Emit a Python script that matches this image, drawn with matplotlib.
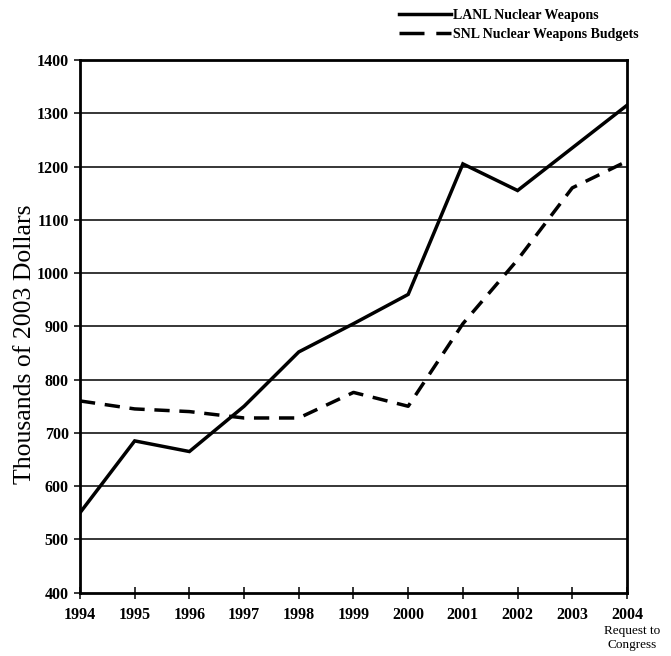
import matplotlib
matplotlib.use("Agg")
import matplotlib.pyplot as plt

years = [1994, 1995, 1996, 1997, 1998, 1999, 2000, 2001, 2002, 2003, 2004]
lanl = [550, 685, 665, 750, 852, 905, 960, 1205, 1155, 1235, 1315]
snl = [760, 745, 740, 728, 728, 776, 750, 905, 1025, 1160, 1210]
yticks = [400, 500, 600, 700, 800, 900, 1000, 1100, 1200, 1300, 1400]

plt.rcParams['font.family'] = ['Liberation Serif', 'DejaVu Serif']

fig = plt.figure(figsize=(6.71, 6.56), dpi=100)
ax = fig.add_axes([0.1192, 0.0965, 0.8152, 0.812])

# gridlines
for v in yticks[1:-1]:
    ax.axhline(v, color='black', lw=1.1, zorder=1)

ax.plot(years, lanl, color='black', lw=2.5, solid_joinstyle='miter',
        label='LANL Nuclear Weapons', zorder=3)
ax.plot(years, snl, color='black', lw=2.5, dashes=(4.4, 2.8),
        label='SNL Nuclear Weapons Budgets', zorder=3)

ax.set_xlim(1994, 2004)
ax.set_ylim(400, 1400)
ax.set_xticks(years)
ax.set_xticklabels([str(y) for y in years], fontweight='bold', fontsize=11.5)
ax.set_yticks(yticks)
ax.set_yticklabels([str(v) for v in yticks], fontweight='bold', fontsize=11.5)
ax.tick_params(axis='x', direction='inout', length=8, width=1.1, pad=6)
ax.tick_params(axis='y', direction='out', length=4, width=1.1, pad=4)
for s in ax.spines.values():
    s.set_linewidth(2)
    s.set_color('black')

ax.set_ylabel('Thousands of 2003 Dollars', fontsize=18.5)
ax.yaxis.set_label_coords(-0.08, 0.466)

ax.text(2004.1, -0.06, 'Request to\nCongress', transform=ax.get_xaxis_transform(),
        ha='center', va='top', fontsize=9.5, linespacing=1.25)

leg = fig.legend(loc='upper left', bbox_to_anchor=(393 / 671, 1 - 3 / 656),
                 frameon=False, prop={'weight': 'bold', 'size': 10},
                 handlelength=3.8, handletextpad=0.1, labelspacing=0.45,
                 borderaxespad=0)
# dash pattern in legend: long dash, gap, dash
leg.get_lines()[1].set_dashes([7.2, 3.4])

fig.savefig('out.png', dpi=100)
